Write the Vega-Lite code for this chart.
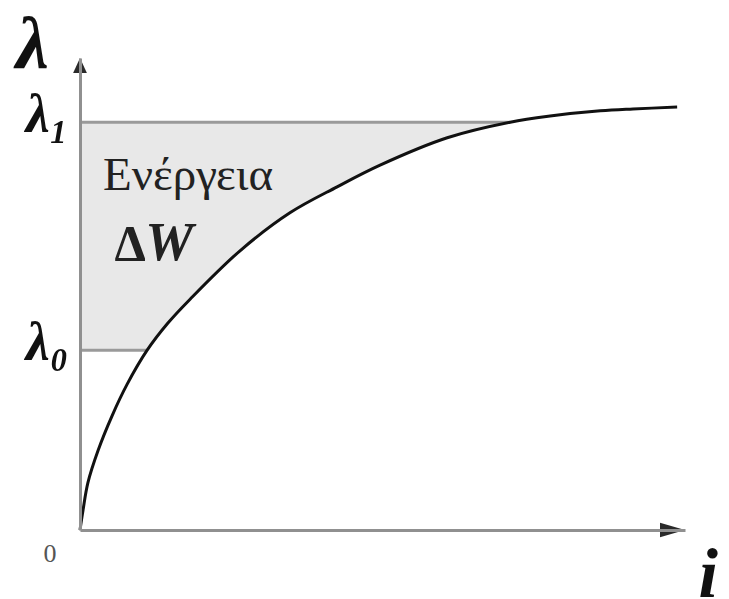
{
  "$schema": "https://vega.github.io/schema/vega-lite/v6.json",
  "width": 605,
  "height": 472,
  "autosize": {"type": "none"},
  "padding": {"left": 80, "top": 58, "right": 44, "bottom": 69},
  "background": "white",
  "config": {"view": {"stroke": null}},
  "datasets": {
    "curve": [
      {"i": 0, "lambda": 0},
      {"i": 0.05, "lambda": 0.42},
      {"i": 0.13, "lambda": 1.0},
      {"i": 0.3, "lambda": 1.69},
      {"i": 0.53, "lambda": 2.42},
      {"i": 0.78, "lambda": 3.09},
      {"i": 1.11, "lambda": 3.81},
      {"i": 1.45, "lambda": 4.38},
      {"i": 1.82, "lambda": 4.89},
      {"i": 2.64, "lambda": 5.91},
      {"i": 3.47, "lambda": 6.72},
      {"i": 4.25, "lambda": 7.27},
      {"i": 4.96, "lambda": 7.73},
      {"i": 6.07, "lambda": 8.31},
      {"i": 7.11, "lambda": 8.64},
      {"i": 7.77, "lambda": 8.77},
      {"i": 8.6, "lambda": 8.88},
      {"i": 9.14, "lambda": 8.92},
      {"i": 9.87, "lambda": 8.96}
    ],
    "levels": [
      {"level": "λ0", "i": 1.11, "lambda": 3.81},
      {"level": "λ1", "i": 7.11, "lambda": 8.64}
    ],
    "energy": [{"text": "Ενέργεια", "i": 0.38, "lambda": 7.2}],
    "delta": [{"text": "Δ", "i": 0.57, "lambda": 5.72}],
    "work": [{"text": "W", "i": 1.08, "lambda": 5.72}],
    "arrowX": [{"i": 10, "lambda": 0}],
    "arrowY": [{"i": 0, "lambda": 10}]
  },
  "encoding": {
    "x": {
      "field": "i",
      "type": "quantitative",
      "scale": {"domain": [0, 10], "nice": false, "zero": false},
      "axis": {
        "values": [0],
        "labelExpr": "'0'",
        "domainColor": "#909090",
        "domainWidth": 3,
        "ticks": false,
        "grid": false,
        "labelFlush": false,
        "labelFont": "Liberation Serif",
        "labelFontSize": 26,
        "labelColor": "#555555",
        "labelAlign": "right",
        "labelBaseline": "top",
        "labelOffset": -24,
        "labelPadding": 10,
        "title": "i",
        "titleFont": "Liberation Serif",
        "titleFontSize": 70,
        "titleFontStyle": "italic",
        "titleFontWeight": "bold",
        "titleColor": "#111111",
        "titleAlign": "left",
        "titleBaseline": "alphabetic",
        "titleX": 618,
        "titleY": 66,
        "zindex": 1
      }
    },
    "y": {
      "field": "lambda",
      "type": "quantitative",
      "scale": {"domain": [0, 10], "nice": false, "zero": false},
      "axis": {
        "values": [3.81, 8.64],
        "labelExpr": "datum.value < 5 ? 'λ₀' : 'λ₁'",
        "domainColor": "#909090",
        "domainWidth": 3,
        "ticks": false,
        "grid": false,
        "labelOverlap": false,
        "labelFlush": false,
        "labelFont": "Liberation Serif",
        "labelFontSize": 54,
        "labelFontStyle": "italic",
        "labelFontWeight": "bold",
        "labelColor": "#111111",
        "labelPadding": 12,
        "labelBaseline": "middle",
        "labelOffset": -7,
        "title": "λ",
        "titleFont": "Liberation Serif",
        "titleFontSize": 74,
        "titleFontStyle": "italic",
        "titleFontWeight": "bold",
        "titleColor": "#111111",
        "titleAngle": 0,
        "titleAlign": "center",
        "titleBaseline": "alphabetic",
        "titleX": -48,
        "titleY": 9,
        "zindex": 1
      }
    }
  },
  "layer": [
    {
      "data": {"name": "curve"},
      "transform": [{"filter": "datum.lambda >= 3.81 && datum.lambda <= 8.64"}],
      "mark": {"type": "area", "orient": "horizontal", "color": "#e8e8e8", "interpolate": "catmull-rom"},
      "encoding": {"x2": {"datum": 0}}
    },
    {
      "data": {"name": "levels"},
      "mark": {"type": "rule", "color": "#9a9a9a", "strokeWidth": 3},
      "encoding": {"x2": {"datum": 0}}
    },
    {
      "data": {"name": "curve"},
      "mark": {"type": "line", "color": "#111111", "strokeWidth": 3, "interpolate": "catmull-rom"}
    },
    {
      "data": {"name": "energy"},
      "mark": {"type": "text", "align": "left", "baseline": "alphabetic", "font": "Liberation Serif", "fontSize": 47, "color": "#222222"},
      "encoding": {"text": {"field": "text"}}
    },
    {
      "data": {"name": "delta"},
      "mark": {"type": "text", "align": "left", "baseline": "alphabetic", "font": "Liberation Serif", "fontSize": 50, "fontWeight": "bold", "color": "#222222"},
      "encoding": {"text": {"field": "text"}}
    },
    {
      "data": {"name": "work"},
      "mark": {"type": "text", "align": "left", "baseline": "alphabetic", "font": "Liberation Serif", "fontSize": 54, "fontStyle": "italic", "fontWeight": "bold", "color": "#222222"},
      "encoding": {"text": {"field": "text"}}
    },
    {
      "data": {"name": "arrowX"},
      "mark": {"type": "point", "shape": "M0,0L-2,-0.58L-2,0.58Z", "size": 625, "filled": true, "color": "#2a2a2a", "opacity": 1, "strokeWidth": 0}
    },
    {
      "data": {"name": "arrowY"},
      "mark": {"type": "point", "shape": "M0,0L-0.55,1.2L0.55,1.2Z", "size": 625, "filled": true, "color": "#2a2a2a", "opacity": 1, "strokeWidth": 0}
    }
  ]
}
